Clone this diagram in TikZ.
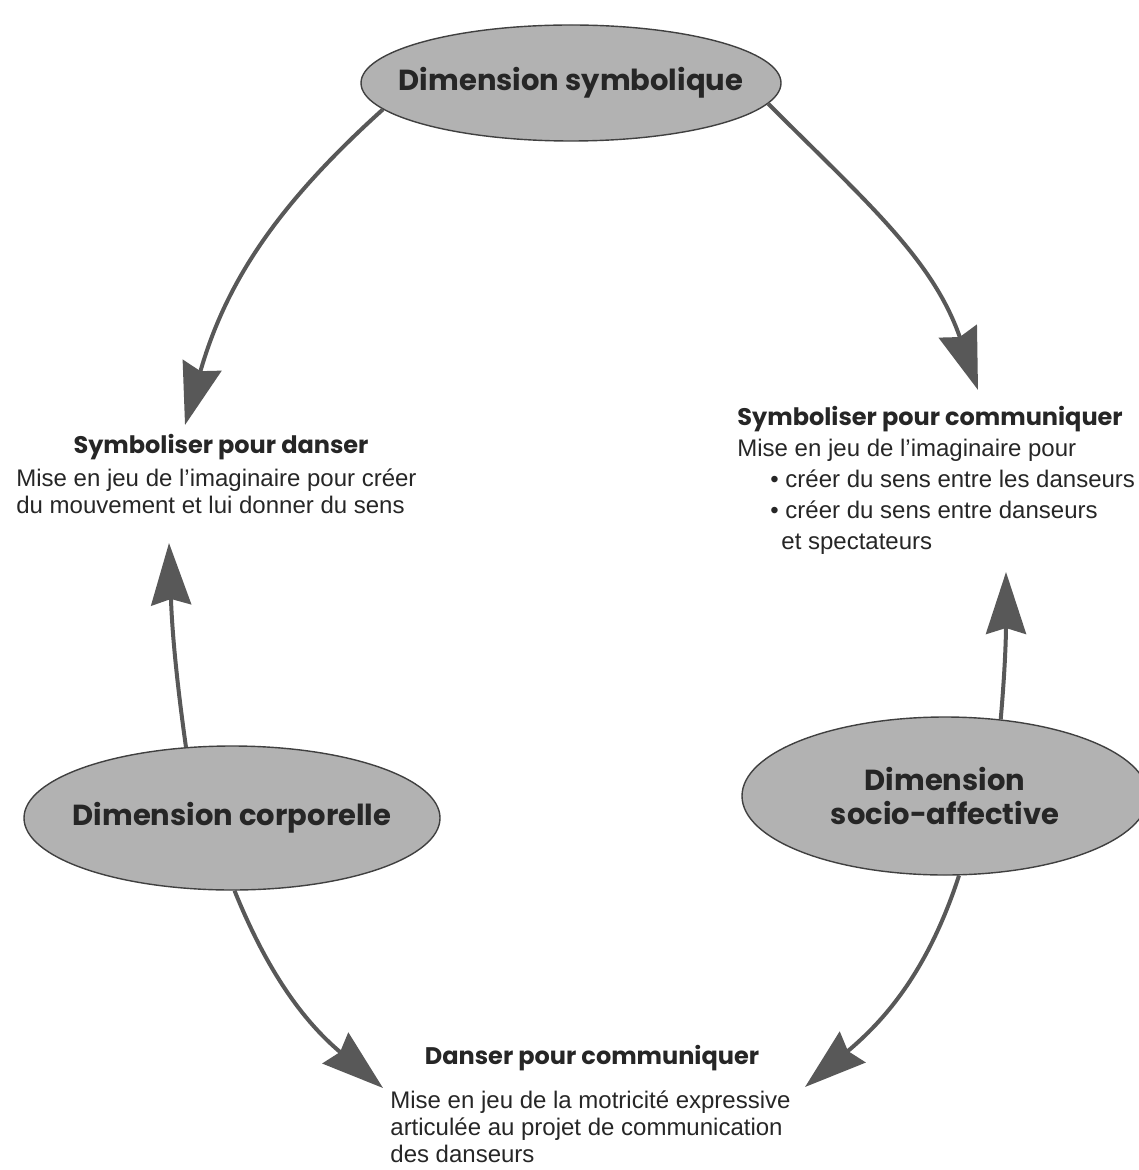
\documentclass[tikz,border=0pt]{standalone}
\usepackage{fontspec}
\setmainfont{Liberation Sans}
\newfontfamily\headfont{Poppins}
\usetikzlibrary{shapes.geometric, arrows.meta, positioning}

\definecolor{ellgray}{RGB}{178,178,178}
\definecolor{arrgray}{RGB}{88,88,88}
\definecolor{inkgray}{RGB}{38,38,38}

\begin{document}
\begin{tikzpicture}[
    x=0.5pt, y=0.5pt,
    dim/.style={ellipse, draw=black!75, fill=ellgray, line width=0.7pt, inner xsep=-14pt, inner ysep=0pt, align=center, text=inkgray, font=\headfont\bfseries\fontsize{14.5}{17}\selectfont},
    head/.style={inner sep=0pt, text=inkgray, font=\headfont\bfseries\fontsize{12}{15}\selectfont},
    body/.style={inner sep=0pt, align=left, text=inkgray, font=\fontsize{12}{13.5}\selectfont},
    arrow/.style={-{Stealth[length=31pt, width=20pt, inset=3pt]}, line width=2pt, draw=arrgray}
]
\useasboundingbox (0,0) rectangle (1138,-1170);

% Dimensions
\node[dim, minimum width=210pt, minimum height=58pt] (symb) at (571,-83) {Dimension symbolique};
\node[dim, minimum width=208pt, minimum height=72pt] (corp) at (232,-818) {Dimension corporelle};
\node[dim, minimum width=203pt, minimum height=79pt] (socio) at (945,-796) {Dimension\\socio-affective};

% Symboliser pour danser
\node[head] (danserhead) at (221,-447) {Symboliser pour danser};
\node[body, anchor=north west] (danserbody) at (16,-468) {Mise en jeu de l’imaginaire pour créer\\du mouvement et lui donner du sens};

% Symboliser pour communiquer
\node[head, anchor=west] (commhead) at (737,-419) {Symboliser pour communiquer};
\node[body, anchor=north west, font=\fontsize{12}{15.5}\selectfont] (commbody) at (737,-439) {Mise en jeu de l’imaginaire pour\\
  \hspace*{16.5pt}• créer du sens entre les danseurs\\
  \hspace*{16.5pt}• créer du sens entre danseurs\\
  \hspace*{22pt}et spectateurs};

% Danser pour communiquer
\node[head] (dcommhead) at (592,-1058) {Danser pour communiquer};
\node[body, anchor=north west] (dcommbody) at (390,-1090) {Mise en jeu de la motricité expressive\\articulée au projet de communication\\des danseurs};

% Arrow ends
\coordinate (tipA) at (185,-425);
\coordinate (tipB) at (978,-390);
\coordinate (tipC) at (169,-543);
\coordinate (tipD) at (1006,-572);
\coordinate (tipE) at (383,-1088);
\coordinate (tipF) at (805,-1087);

% Arrows
\draw[arrow] (symb.188) to[out=222, in=74] (tipA);
\draw[arrow] (symb.-6) to[out=-45, in=109] (tipB);
\draw[arrow] (corp.123) to[out=98, in=-88] (tipC);
\draw[arrow] (socio.54) to[out=85, in=-90] (tipD);
\draw[arrow] (corp.-88) to[out=-68, in=140] (tipE);
\draw[arrow] (socio.-80) to[out=-108, in=40] (tipF);

\end{tikzpicture}
\end{document}
